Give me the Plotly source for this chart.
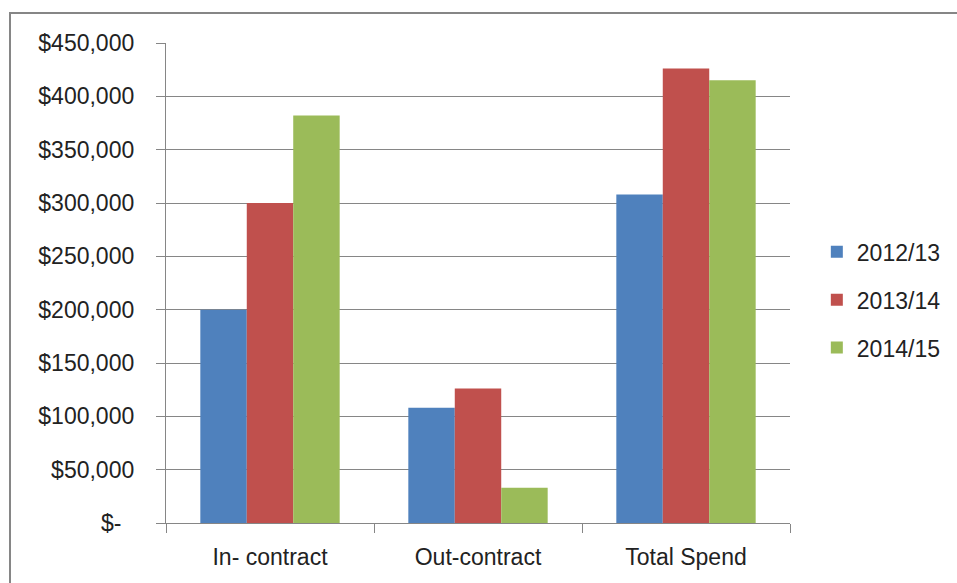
import plotly.graph_objects as go

categories = ["In- contract", "Out-contract", "Total Spend"]
series_names = ["2012/13", "2013/14", "2014/15"]
values_2012 = [200000, 108000, 308000]
values_2013 = [300000, 126000, 426000]
values_2014 = [382000, 33000, 415000]
colors = ["#4F81BD", "#C0504D", "#9BBB59"]

y_tickvals = [0, 50000, 100000, 150000, 200000, 250000, 300000, 350000, 400000, 450000]
y_ticktext = ["$-\u00a0\u00a0"] + ["${:,}".format(v) for v in y_tickvals[1:]]

FONT = "Liberation Sans"
fig = go.Figure()
for name, vals, col in zip(series_names, [values_2012, values_2013, values_2014], colors):
    fig.add_trace(go.Bar(
        x=categories, y=vals, name=name, legendgroup=name,
        marker=dict(color=col, line=dict(width=0)),
    ))

fig.update_layout(
    width=957, height=583,
    margin=dict(l=166, r=167, t=43, b=60, autoexpand=False),
    paper_bgcolor="white", plot_bgcolor="white",
    barmode="group", bargap=0.33, bargroupgap=0,
    font=dict(family=FONT, size=23, color="#222222"),
    legend=dict(x=1.043, y=0.465, xanchor="left", yanchor="middle",
                font=dict(size=23, color="#222222"), tracegroupgap=15,
                itemwidth=30),
    showlegend=True,
)
fig.update_xaxes(
    showline=True, linecolor="#868686", linewidth=1.3,
    ticks="outside", tickson="boundaries", ticklen=9, tickcolor="#868686",
    showgrid=False, ticklabelstandoff=13,
)
fig.update_yaxes(
    range=[0, 450000], tickvals=y_tickvals, ticktext=y_ticktext,
    showline=True, linecolor="#868686", linewidth=1.3,
    ticks="outside", ticklen=9, tickcolor="#868686",
    showgrid=True, gridcolor="#868686", gridwidth=1.3,
    zeroline=False, ticklabelstandoff=17,
)
# outer chart frame
fig.add_shape(type="rect", xref="paper", yref="paper",
              x0=(10 - 166) / 624, x1=2.0, y0=-1.0, y1=(523 - 13) / 480,
              line=dict(color="#868686", width=2), fillcolor="rgba(0,0,0,0)",
              layer="below")

fig.write_html("out.html")
